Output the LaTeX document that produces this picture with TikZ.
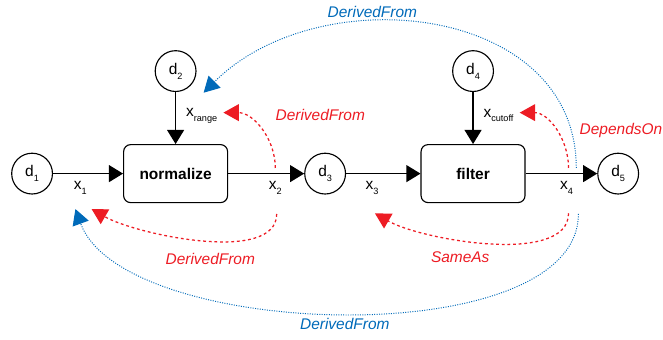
\documentclass[tikz,border=0pt]{standalone}
\usepackage{fontspec}
\setmainfont{Liberation Sans}
\usepackage{tikz}
\usetikzlibrary{positioning}
\usetikzlibrary{arrows.meta}

\definecolor{relred}{RGB}{237,28,36}
\definecolor{relblue}{RGB}{0,106,185}

\newcommand{\lowsub}[1]{\raisebox{-3.5pt}{\fontsize{6.5}{7}\selectfont #1}}

\begin{document}
\begin{tikzpicture}[node distance=1.8cm, font=\fontsize{11}{13}\selectfont]
        \tikzstyle{data} = [circle, draw, line width=0.8pt, minimum size=1.02cm, inner sep=0pt];
        \tikzstyle{task} = [rectangle, draw, rounded corners=5pt, line width=0.8pt, minimum width=2.6cm, minimum height=1.45cm, font=\fontsize{11}{13}\selectfont\bfseries];
        \tikzstyle{flow} = [line width=0.9pt, -{Triangle[length=10pt, width=12pt]}];
        \tikzstyle{var} = [inner sep=2pt];
        \tikzstyle{rel} = [relred, line width=0.9pt, dash pattern=on 2pt off 2pt, -{Triangle[length=11pt, width=12pt]}];
        \tikzstyle{link} = [relblue, line width=0.7pt, densely dotted, -{Triangle[length=11pt, width=12pt]}];
        \tikzstyle{reltext} = [relred, font=\fontsize{11}{13}\selectfont\itshape];
        \tikzstyle{linktext} = [relblue, font=\fontsize{11}{13}\selectfont\itshape];

        \useasboundingbox (0,0) rectangle (16.575,-8.475);

        \node[task] (norm) at (4.39,-4.34) {normalize};
        \node[data, left=1.75cm of norm] (d1) {d\lowsub{1}};
        \node[data, above=1.3cm of norm] (d2) {d\lowsub{2}};
        \node[data, right=1.9cm of norm] (d3) {d\lowsub{3}};
        \node[task, right=1.86cm of d3] (filter) {filter};
        \node[data, above=1.3cm of filter] (d4) {d\lowsub{4}};
        \node[data, right=1.79cm of filter] (d5) {d\lowsub{5}};

        \draw[flow] (d1) -- node[var, below=3pt, pos=0.39] (x1) {x\lowsub{1}} (norm);
        \draw[flow] (d2) -- node[var, right=5pt, pos=0.45] (xrange) {x\lowsub{range}} (norm);
        \draw[flow] (norm) -- node[var, below=3pt, pos=0.62] (x2) {x\lowsub{2}} (d3);
        \draw[flow] (d3) -- node[var, below=3pt, pos=0.35] (x3) {x\lowsub{3}} (filter);
        \draw[flow] (d4) -- node[var, right=5pt, pos=0.45] (xcutoff) {x\lowsub{cutoff}} (filter);
        \draw[flow] (filter) -- node[var, below=3pt, pos=0.57] (x4) {x\lowsub{4}} (d5);

        \draw[rel] ([yshift=7pt]x2.north) to[out=90, in=0] ([shift={(2pt,2pt)}]xrange.east);
        \node[reltext, right=1.25cm of xrange] (relA) {DerivedFrom};
        \draw[rel] ([shift={(1pt,-11.5pt)}]x2.south) to[out=-90, in=-30, looseness=0.7]
            node[reltext, below=5pt, pos=0.46] (relB) {DerivedFrom} ([shift={(1pt,-8pt)}]x1.south east);
        \draw[rel] ([shift={(1.5pt,-11pt)}]x4.south) to[out=-90, in=-30, looseness=0.7]
            node[reltext, below=5pt, pos=0.61] (relC) {SameAs} ([shift={(2pt,-11pt)}]x3.south);
        \draw[rel] ([shift={(1.5pt,7pt)}]x4.north) to[out=90, in=0] ([shift={(2pt,2pt)}]xcutoff.east);
        \node[reltext, above=7pt of d5, xshift=2pt] (relD) {DependsOn};

        \draw[link] ([shift={(7pt,7pt)}]x4.north) to[out=90, in=45, looseness=1.1]
            node[linktext, above, pos=0.625] (linkA) {DerivedFrom} ([shift={(0.33cm,-0.17cm)}]d2.south east);
        \draw[link] ([shift={(8.5pt,-11.5pt)}]x4.south) to[out=-90, in=-70, looseness=0.71]
            node[linktext, below, pos=0.5] (linkB) {DerivedFrom} ([shift={(-3.5pt,-8pt)}]x1.south);
    \end{tikzpicture}
\end{document}
